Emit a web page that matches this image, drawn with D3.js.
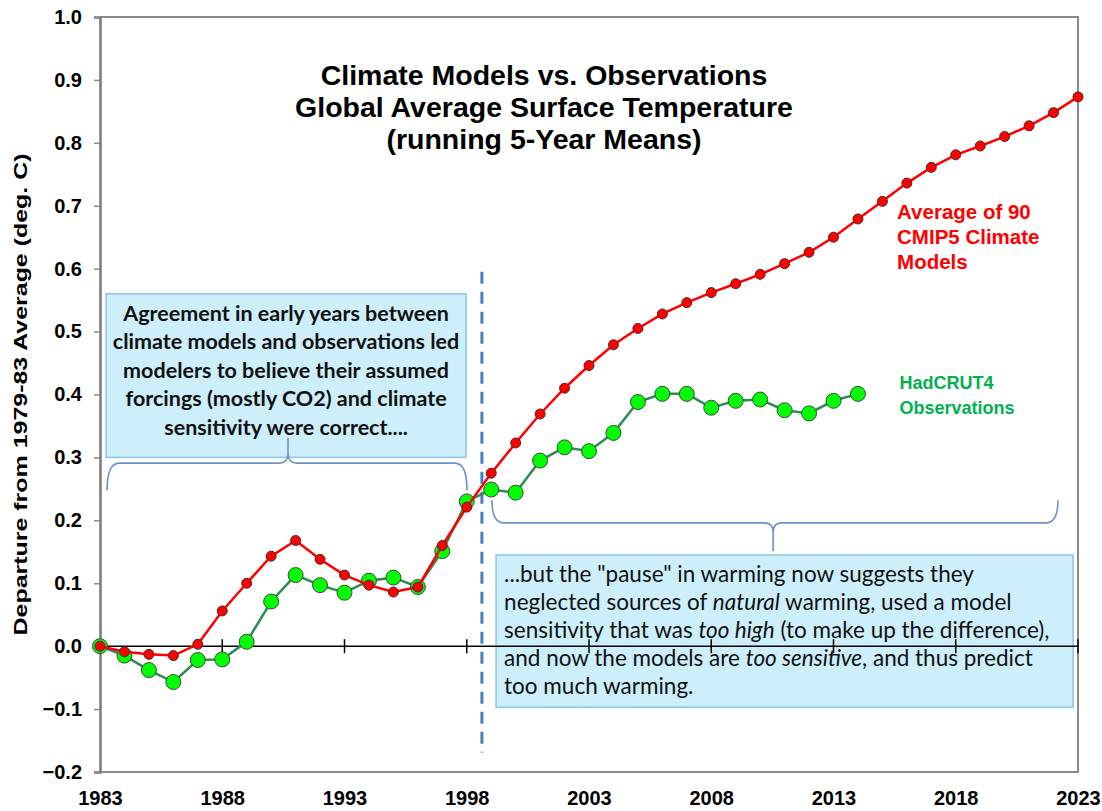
<!DOCTYPE html>
<html>
<head>
<meta charset="utf-8">
<script src="https://cdn.jsdelivr.net/npm/d3@7"></script>
<style>
  body { margin: 0; background: #fff; }
  svg { display: block; }
  .tick text { font-family: "Liberation Sans", Arial, sans-serif; font-weight: bold; font-size: 20px; fill: #000; }
</style>
</head>
<body>
<div class="chart"></div>
<script>
/*** DATA ***/
const modelYears = [1983, 1984, 1985, 1986, 1987, 1988, 1989, 1990, 1991, 1992,
  1993, 1994, 1995, 1996, 1997, 1998, 1999, 2000, 2001, 2002,
  2003, 2004, 2005, 2006, 2007, 2008, 2009, 2010, 2011, 2012,
  2013, 2014, 2015, 2016, 2017, 2018, 2019, 2020, 2021, 2022, 2023];
const modelValues = [0.000, -0.009, -0.013, -0.015, 0.003, 0.056, 0.100, 0.143, 0.168, 0.138,
  0.113, 0.097, 0.086, 0.094, 0.160, 0.221, 0.275, 0.323, 0.369, 0.410,
  0.446, 0.479, 0.505, 0.528, 0.546, 0.562, 0.576, 0.591, 0.608, 0.626,
  0.650, 0.679, 0.707, 0.736, 0.761, 0.781, 0.795, 0.810, 0.827, 0.848, 0.873];

const obsYears = [1983, 1984, 1985, 1986, 1987, 1988, 1989, 1990, 1991, 1992,
  1993, 1994, 1995, 1996, 1997, 1998, 1999, 2000, 2001, 2002,
  2003, 2004, 2005, 2006, 2007, 2008, 2009, 2010, 2011, 2012, 2013, 2014];
const obsValues = [0.000, -0.015, -0.038, -0.057, -0.022, -0.021, 0.007, 0.071, 0.113, 0.097,
  0.085, 0.104, 0.109, 0.094, 0.151, 0.230, 0.249, 0.244, 0.295, 0.316,
  0.310, 0.339, 0.388, 0.401, 0.401, 0.379, 0.390, 0.392, 0.375, 0.370, 0.390, 0.401];

const xTicks = [1983, 1988, 1993, 1998, 2003, 2008, 2013, 2018, 2023];
const yTicks = [-0.2, -0.1, 0.0, 0.1, 0.2, 0.3, 0.4, 0.5, 0.6, 0.7, 0.8, 0.9, 1.0];

const titleLines = ['Climate Models vs. Observations', 'Global Average Surface Temperature', '(running 5-Year Means)'];
const yLabel = 'Departure from 1979-83 Average (deg. C)';
const modelLabel = ['Average of 90', 'CMIP5 Climate', 'Models'];
const obsLabel = ['HadCRUT4', 'Observations'];
const leftNote = ['Agreement in early years between', 'climate models and observations led',
  'modelers to believe their assumed', 'forcings (mostly CO2) and climate', 'sensitivity were correct....'];
// each line is a list of [text, italic]
const rightNote = [
  [['...but the "pause" in warming now suggests they', false]],
  [['neglected sources of ', false], ['natural', true], [' warming, used a model', false]],
  [['sensitivity that was ', false], ['too high', true], [' (to make up the difference),', false]],
  [['and now the models are ', false], ['too sensitive', true], [', and thus predict', false]],
  [['too much warming.', false]]
];

/*** LAYOUT ***/
const margin = { top: 17, left: 100, right: 24, bottom: 39 };
const W = 1102, H = 811;
const width = W - margin.left - margin.right,
      height = H - margin.top - margin.bottom;

const svg = d3.select('.chart')
  .append('svg')
  .attr('width', W)
  .attr('height', H);

const g = svg.append('g')
  .attr('transform', `translate(${margin.left}, ${margin.top})`);

const x = d3.scaleLinear().domain([1983, 2023]).range([0, width]);
const y = d3.scaleLinear().domain([-0.2, 1.0]).range([height, 0]);

const sansBold = '"Liberation Sans", Arial, sans-serif';
const noteFont = 'Lato, "Open Sans", sans-serif';

// plot frame (top / right / bottom)
g.append('path')
  .attr('d', `M0,0 H${width} V${height} H0`)
  .attr('fill', 'none')
  .attr('stroke', '#8a8a8a')
  .attr('stroke-width', 2);

/*** ANNOTATION BOXES ***/
function noteBox(x0, x1, v0, v1) {
  g.append('rect')
    .attr('x', x(x0))
    .attr('y', y(v0))
    .attr('width', x(x1) - x(x0))
    .attr('height', y(v1) - y(v0))
    .attr('fill', '#cdeefb')
    .attr('stroke', '#8fc3e6')
    .attr('stroke-width', 1.5);
}
noteBox(1983.25, 1997.97, 0.560, 0.300);
noteBox(1999.2, 2022.8, 0.145, -0.097);

g.append('g')
  .selectAll('text')
  .data(leftNote)
  .join('text')
  .attr('x', (x(1983.25) + x(1997.97)) / 2)
  .attr('y', (d, i) => y(0.529) + i * 28.5)
  .attr('dy', '0.35em')
  .attr('text-anchor', 'middle')
  .style('font-family', noteFont)
  .style('font-weight', 'bold')
  .style('font-size', '21.5px')
  .style('fill', '#111')
  .text(d => d);

const rightText = g.append('g')
  .selectAll('text')
  .data(rightNote)
  .join('text')
  .attr('x', x(1999.2) + 8)
  .attr('y', (d, i) => y(0.115) + i * 28.1)
  .attr('dy', '0.35em')
  .style('font-family', noteFont)
  .style('font-size', '22.5px')
  .style('fill', '#111');

rightText.selectAll('tspan')
  .data(d => d)
  .join('tspan')
  .style('font-style', d => d[1] ? 'italic' : 'normal')
  .text(d => d[0]);

/*** BRACES ***/
function brace(xa, xb, xm, vEnd, vMid, vTip) {
  const a = x(xa), b = x(xb), m = x(xm);
  const e = y(vEnd), h = y(vMid), t = y(vTip);
  const dir = Math.sign(t - h);
  const r = 12, rt = 9;
  return `M${a},${e} Q${a},${h} ${a + r},${h} L${m - rt},${h} Q${m},${h} ${m},${h + dir * rt} L${m},${t}` +
         ` M${m},${h + dir * rt} Q${m},${h} ${m + rt},${h} L${b - r},${h} Q${b},${h} ${b},${e}`;
}
g.append('path')
  .attr('d', brace(1983.29, 1998.01, 1990.69, 0.248, 0.291, 0.331))
  .attr('fill', 'none')
  .attr('stroke', '#6b93c8')
  .attr('stroke-width', 1.6);
g.append('path')
  .attr('d', brace(1999.03, 2022.18, 2010.53, 0.232, 0.196, 0.151))
  .attr('fill', 'none')
  .attr('stroke', '#6b93c8')
  .attr('stroke-width', 1.6);

/*** DASHED DIVIDER ***/
g.append('line')
  .attr('x1', x(1998.62)).attr('x2', x(1998.62))
  .attr('y1', y(0.595)).attr('y2', y(-0.169))
  .attr('stroke', '#4a7ebb')
  .attr('stroke-width', 3)
  .attr('stroke-dasharray', '12,8');

/*** AXES ***/
const yAxis = g.append('g')
  .call(d3.axisLeft(y).tickValues(yTicks).tickFormat(d3.format('.1f')).tickSize(6).tickPadding(12));
yAxis.select('.domain').attr('stroke', '#7a7a7a').attr('stroke-width', 2.5);
yAxis.selectAll('.tick line').attr('stroke', '#8a8a8a').attr('stroke-width', 1.5);

const xAxis = g.append('g')
  .attr('transform', `translate(0, ${height})`)
  .call(d3.axisBottom(x).tickValues(xTicks).tickFormat(d3.format('d')).tickSize(0).tickPadding(19));
xAxis.select('.domain').remove();

// zero line with year ticks
g.append('line')
  .attr('x1', 0).attr('x2', width)
  .attr('y1', y(0)).attr('y2', y(0))
  .attr('stroke', '#000')
  .attr('stroke-width', 1.5);
g.append('g')
  .selectAll('line')
  .data(xTicks.slice(1))
  .join('line')
  .attr('x1', d => x(d)).attr('x2', d => x(d))
  .attr('y1', y(0) - 7).attr('y2', y(0) + 7)
  .attr('stroke', '#000')
  .attr('stroke-width', 1.5);

/*** SERIES ***/
const line = d3.line().x(d => x(d[0])).y(d => y(d[1]));
const obs = d3.zip(obsYears, obsValues);
const model = d3.zip(modelYears, modelValues);

g.append('path')
  .datum(obs)
  .attr('d', line)
  .attr('fill', 'none')
  .attr('stroke', '#2e8b57')
  .attr('stroke-width', 2.5);
g.append('g')
  .selectAll('circle')
  .data(obs)
  .join('circle')
  .attr('cx', d => x(d[0]))
  .attr('cy', d => y(d[1]))
  .attr('r', 7.5)
  .attr('fill', '#00ff00')
  .attr('stroke', '#3a4a3a')
  .attr('stroke-width', 1);

g.append('path')
  .datum(model)
  .attr('d', line)
  .attr('fill', 'none')
  .attr('stroke', '#ff0000')
  .attr('stroke-width', 2.5);
g.append('g')
  .selectAll('circle')
  .data(model)
  .join('circle')
  .attr('cx', d => x(d[0]))
  .attr('cy', d => y(d[1]))
  .attr('r', 5)
  .attr('fill', '#ff0000')
  .attr('stroke', '#4a2a2a')
  .attr('stroke-width', 1);

/*** LABELS ***/
svg.append('g')
  .selectAll('text')
  .data(titleLines)
  .join('text')
  .attr('x', 544)
  .attr('y', (d, i) => 75 + i * 32)
  .attr('dy', '0.35em')
  .attr('text-anchor', 'middle')
  .style('font-family', sansBold)
  .style('font-weight', 'bold')
  .style('font-size', '28.5px')
  .text(d => d);

svg.append('text')
  .attr('transform', `translate(20, ${margin.top + y(0.4)}) rotate(-90)`)
  .attr('dy', '0.35em')
  .attr('text-anchor', 'middle')
  .attr('textLength', 482)
  .attr('lengthAdjust', 'spacingAndGlyphs')
  .style('font-family', sansBold)
  .style('font-weight', 'bold')
  .style('font-size', '19px')
  .text(yLabel);

g.append('g')
  .selectAll('text')
  .data(modelLabel)
  .join('text')
  .attr('x', x(2015.6))
  .attr('y', (d, i) => y(0.691) + i * 25)
  .attr('dy', '0.35em')
  .style('font-family', sansBold)
  .style('font-weight', 'bold')
  .style('font-size', '20.5px')
  .style('fill', '#ff0000')
  .text(d => d);

g.append('g')
  .selectAll('text')
  .data(obsLabel)
  .join('text')
  .attr('x', x(2015.7))
  .attr('y', (d, i) => y(0.418) + i * 25)
  .attr('dy', '0.35em')
  .style('font-family', sansBold)
  .style('font-weight', 'bold')
  .style('font-size', '18px')
  .style('fill', '#00b050')
  .text(d => d);
</script>
</body>
</html>
